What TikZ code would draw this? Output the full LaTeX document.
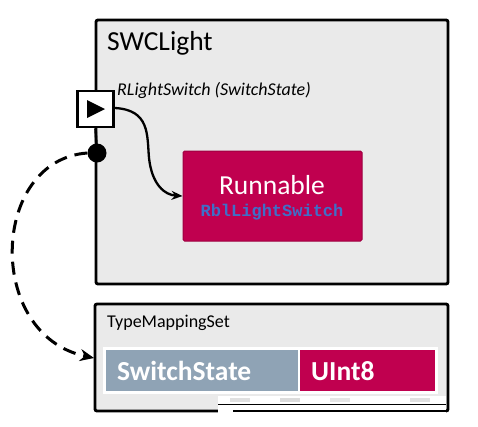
\documentclass[tikz,border=0pt]{standalone}
\usepackage{fontspec}
\setmainfont{Carlito}
\newfontfamily\codefont{Liberation Mono}
\usetikzlibrary{arrows.meta}
\definecolor{crimson}{HTML}{C0004F}
\definecolor{crimsondark}{HTML}{9E0040}
\definecolor{slateblue}{HTML}{8FA3B5}
\definecolor{boxfill}{HTML}{EAEAEA}
\definecolor{codeblue}{HTML}{3F6FC8}
\tikzset{
  compbox/.style={draw=black, line width=2.9pt, fill=boxfill, rounded corners=2pt},
  label/.style={inner sep=0pt, anchor=west},
  typecell/.style={inner sep=0pt, minimum height=41pt, text=white, font=\bfseries\fontsize{27.5}{30}\selectfont},
}
\begin{document}
\begin{tikzpicture}[x=1pt,y=-1pt]
\useasboundingbox[fill=white] (0,0) rectangle (478,426);
% SWCLight component
\draw[compbox] (96,20) rectangle (448,284);
\node[label, font=\fontsize{27.5}{30}\selectfont] (swc) at (107,43) {SWCLight};
\node[label, font=\itshape\fontsize{18}{20}\selectfont] (portlbl) at (117,90) {RLightSwitch (SwitchState)};
% Runnable
\node[draw=crimsondark, line width=1pt, fill=crimson, rounded corners=1.5pt,
      minimum width=179pt, minimum height=90pt, inner sep=0pt] (run) at (272.5,196) {};
\node[text=white, inner sep=0pt, font=\fontsize{27.5}{30}\selectfont] (runtxt) at (272,185) {Runnable};
\node[text=codeblue, inner sep=0pt, font=\codefont\bfseries\fontsize{17}{19}\selectfont] (runname) at (272,212) {RblLightSwitch};
% Port
\node[draw=black, line width=2.9pt, fill=white, minimum size=36pt, inner sep=0pt] (port) at (95.5,109) {};
\fill[black] (87,100) -- (105,109) -- (87,118) -- cycle;
\node[circle, fill=black, minimum size=19pt, inner sep=0pt] (dot) at (97,153) {};
\draw[line width=2.6pt] (port.south) -- (dot.center);
\draw[line width=2.3pt, -{Stealth[length=11pt,width=9pt]}]
  (port.east |- 0,108) .. controls (150,110) and (147,135) .. (149,158)
  .. controls (152,185) and (165,195) .. (run.west |- 0,196);
% TypeMappingSet
\draw[compbox] (95,304) rectangle (448,411);
\coordinate (tmsin) at (94,358);
\node[label, font=\fontsize{18}{20}\selectfont] (tms) at (107,323) {TypeMappingSet};
\fill[white] (103,347) rectangle (438,394);
\node[typecell, fill=slateblue, minimum width=192pt, anchor=west] (ss) at (106,370.5) {};
\node[label, text=white, font=\bfseries\fontsize{27.5}{30}\selectfont] (sstxt) at (117,371) {SwitchState};
\node[typecell, fill=crimson, minimum width=135pt, anchor=west] (u8) at (300,370.5) {};
\node[label, text=white, font=\bfseries\fontsize{27.5}{30}\selectfont] (u8txt) at (311,371) {UInt8};
% scan artefact at the bottom edge
\fill[white] (218,396) rectangle (446,413);
\fill[black!12] (230,398) rectangle (250,402);
\fill[black!14] (280,398) rectangle (300,402);
\fill[black!10] (330,398) rectangle (350,402);
\fill[black!12] (410,398) rectangle (430,402);
\draw[line width=0.8pt] (218,404) -- (446,404);
\draw[line width=2.9pt] (233,411) -- (448,411);
% dashed mapping arrow
\draw[line width=3pt, dash pattern=on 13pt off 8pt, -{Stealth[length=14pt,width=12pt]}]
  (dot.west) .. controls (-10,160) and (-15,335) .. (tmsin);
\end{tikzpicture}
\end{document}
